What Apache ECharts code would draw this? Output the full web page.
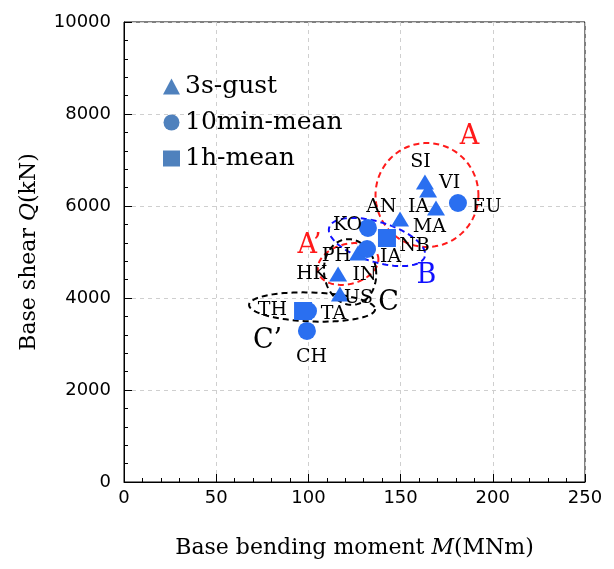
<!DOCTYPE html>
<html>
<head>
<meta charset="utf-8">
<script src="https://cdn.jsdelivr.net/npm/echarts@6/dist/echarts.min.js"></script>
<style>
html,body{margin:0;padding:0;background:#fff;}
#chart{width:614px;height:569px;}
</style>
</head>
<body>
<div id="chart"></div>
<script>
// ---- data ----
const seriesNames = ['3s-gust', '10min-mean', '1h-mean'];
const gustM = [163.2, 164.9, 169.2, 149.7, 126.9, 116.1, 117.1];
const gustQ = [6522, 6348, 5957, 5717, 4978, 4522, 4087];
const tenMinM = [181.1, 132.3, 131.8, 99.8, 99.2];
const tenMinQ = [6065, 5522, 5065, 3717, 3283];
const hourM = [142.6, 97.1];
const hourQ = [5304, 3717];

// text labels (site codes) at their value positions
const labelNames = ['SI','VI','AN','IA','EU','KO','MA','NB','PH','IA','HK','IN','US','TH','TA','CH'];
const labelM = [161.1, 176.8, 139.9, 160.0, 196.9, 121.5, 165.9, 157.8, 115.5, 144.8, 102.0, 130.7, 127.4, 80.8, 113.9, 102.0];
const labelQ = [6935, 6478, 5957, 5957, 5957, 5565, 5522, 5109, 4891, 4870, 4500, 4478, 3978, 3717, 3630, 2696];

// group annotations
const groupNames = ['A', 'A\u2019', 'B', 'C', 'C\u2019'];
const groupLabelM = [187.6, 100.9, 164.3, 143.7, 78.1];
const groupLabelQ = [7500, 5130, 4478, 3870, 3065];
const groupColors = ['#ff1a1a', '#ff1a1a', '#1010ff', '#000000', '#000000'];
// ellipses: centre (M, Q), half-widths (M, Q), rotation deg
const ellCM = [164.3, 121.5, 137.2, 122.6, 102.0];
const ellCQ = [6239, 4739, 5217, 4565, 3804];
const ellRM = [27.9, 16.8, 27.1, 14.1, 34.2];
const ellRQ = [1130, 435, 435, 717, 315];
const ellRot = [0, -15, 17, -8, 2];

const xTicks = {min: 0, max: 250, interval: 50};
const yTicks = {min: 0, max: 10000, interval: 2000};

const zip = (a, b) => a.map((v, i) => [v, b[i]]);

const chart = echarts.init(document.getElementById('chart'));
const markerColor = '#2a6ff0';
const serif = 'DejaVu Serif';
const sans = 'DejaVu Sans';

const axisCommon = {
  axisLine: {show: true, onZero: false, lineStyle: {color: '#000', width: 1}},
  axisTick: {show: true, inside: true, length: 8, lineStyle: {color: '#000'}},
  minorTick: {show: true, splitNumber: 5, length: 4, lineStyle: {color: '#000'}},
  splitLine: {show: true, lineStyle: {color: '#cfcfcf', type: [4, 4], width: 1}},
  nameLocation: 'middle'
};

const ellData = ellCM.map((m, i) => [m, ellCQ[i], ellRM[i], ellRQ[i], ellRot[i], i]);

chart.setOption({
  animation: false,
  backgroundColor: '#fff',
  grid: {left: 124, right: 29, top: 22, bottom: 87, show: true, borderColor: '#000', borderWidth: 1, backgroundColor: 'transparent'},
  legend: {
    orient: 'vertical', left: 158, top: 69, itemGap: 11,
    itemWidth: 17, itemHeight: 16,
    textStyle: {fontFamily: serif, fontSize: 25, color: '#000'},
    itemStyle: {color: '#4f81bd'},
    data: [
      {name: seriesNames[0], icon: 'triangle'},
      {name: seriesNames[1], icon: 'circle'},
      {name: seriesNames[2], icon: 'rect'}
    ]
  },
  xAxis: Object.assign({}, axisCommon, {
    type: 'value', min: xTicks.min, max: xTicks.max, interval: xTicks.interval,
    name: 'Base bending moment {i|M}(MNm)', nameGap: 55,
    nameTextStyle: {color: '#000', fontFamily: serif, fontSize: 22, rich: {i: {fontFamily: serif, fontStyle: 'italic', fontSize: 22, color: '#000'}}},
    axisLabel: {color: '#000', fontFamily: sans, fontSize: 18, margin: 7, formatter: v => String(v)}
  }),
  yAxis: Object.assign({}, axisCommon, {
    type: 'value', min: yTicks.min, max: yTicks.max, interval: yTicks.interval,
    name: 'Base shear {i|Q}(kN)', nameGap: 84,
    nameTextStyle: {color: '#000', fontFamily: serif, fontSize: 22, rich: {i: {fontFamily: serif, fontStyle: 'italic', fontSize: 22, color: '#000'}}},
    axisLabel: {color: '#000', fontFamily: sans, fontSize: 18, margin: 13, formatter: v => String(v)}
  }),
  series: [
    {
      type: 'custom', name: 'groups', z: 1, silent: true,
      encode: {x: 0, y: 1},
      data: ellData,
      renderItem: function (params, api) {
        const c = api.coord([api.value(0), api.value(1)]);
        const s = api.size([api.value(2), api.value(3)], [api.value(0), api.value(1)]);
        const rot = api.value(4) * Math.PI / 180;
        const idx = api.value(5);
        const pts = [];
        for (let k = 0; k < 120; k++) {
          const t = k / 120 * Math.PI * 2;
          const ex = s[0] * Math.cos(t), ey = s[1] * Math.sin(t);
          pts.push([c[0] + ex * Math.cos(rot) - ey * Math.sin(rot), c[1] + ex * Math.sin(rot) + ey * Math.cos(rot)]);
        }
        return {
          type: 'polygon',
          shape: {points: pts},
          style: {fill: 'none', stroke: groupColors[idx], lineWidth: 2, lineDash: [6, 4]}
        };
      }
    },
    {
      name: seriesNames[0], type: 'scatter', z: 3, symbol: 'triangle', symbolSize: [18, 15],
      itemStyle: {color: markerColor, opacity: 1}, data: zip(gustM, gustQ)
    },
    {
      name: seriesNames[1], type: 'scatter', z: 3, symbol: 'circle', symbolSize: 18,
      itemStyle: {color: markerColor, opacity: 1}, data: zip(tenMinM, tenMinQ)
    },
    {
      name: seriesNames[2], type: 'scatter', z: 3, symbol: 'rect', symbolSize: 18,
      itemStyle: {color: markerColor, opacity: 1}, data: zip(hourM, hourQ)
    },
    {
      name: 'site labels', type: 'scatter', z: 4, symbolSize: 1, silent: true,
      itemStyle: {opacity: 0},
      label: {show: true, position: [0, 0], align: 'center', verticalAlign: 'middle', formatter: p => p.data.name,
              color: '#000', opacity: 1, textBorderWidth: 0, fontFamily: serif, fontSize: 19},
      data: labelNames.map((n, i) => ({name: n, value: [labelM[i], labelQ[i]]}))
    },
    {
      name: 'group labels', type: 'scatter', z: 4, symbolSize: 1, silent: true,
      itemStyle: {opacity: 0},
      label: {show: true, position: [0, 0], align: 'center', verticalAlign: 'middle', formatter: p => p.data.name,
              opacity: 1, textBorderWidth: 0, fontFamily: serif, fontSize: 27},
      data: groupNames.map((n, i) => ({name: n, value: [groupLabelM[i], groupLabelQ[i]], label: {color: groupColors[i]}}))
    }
  ]
});
</script>
</body>
</html>
